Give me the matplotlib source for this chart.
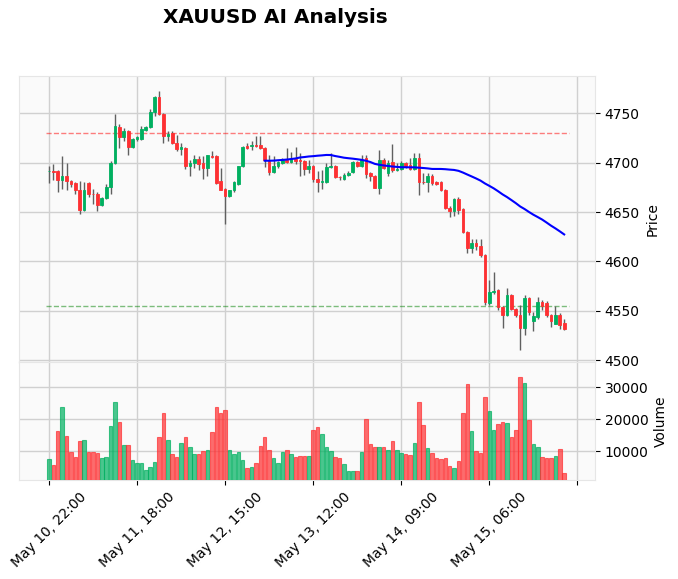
import matplotlib
matplotlib.use("Agg")
import matplotlib.pyplot as plt
import numpy as np
import pandas as pd

# ---------------- data ----------------
opens = [4691.5, 4692, 4692, 4683, 4687, 4682, 4679, 4672, 4652, 4679,
         4668.5, 4668, 4657, 4664, 4675, 4700, 4736, 4726, 4732, 4716,
         4724, 4724, 4733, 4736, 4751, 4767, 4749, 4727, 4730, 4720,
         4714, 4715, 4697, 4700, 4704, 4700, 4695, 4707, 4707, 4681,
         4673, 4666, 4672, 4678, 4697, 4717, 4717, 4717.5, 4718, 4715,
         4702, 4691, 4697, 4700, 4703, 4701, 4704, 4702.5, 4702, 4694,
         4697, 4684, 4680, 4680, 4696, 4697, 4686, 4684, 4688, 4691,
         4701, 4697, 4705, 4690, 4687, 4674, 4703, 4690, 4701, 4693,
         4694, 4700, 4698, 4694, 4705, 4680.5, 4680, 4687, 4680, 4680,
         4672, 4654, 4651, 4663, 4653, 4630, 4614, 4619, 4616, 4606,
         4558, 4569, 4571, 4554, 4546, 4566, 4552, 4546, 4532, 4563,
         4540, 4544, 4559, 4558, 4546, 4537, 4546, 4538]
highs = [4697, 4699, 4693, 4707, 4700, 4683, 4680, 4681, 4680, 4680,
         4673, 4670, 4665, 4678, 4702, 4749, 4739, 4735, 4733, 4725,
         4727, 4737, 4737, 4755, 4768, 4773, 4750, 4732, 4732, 4728,
         4720, 4716, 4703, 4708, 4707, 4707, 4708, 4712, 4708, 4695,
         4674, 4672, 4682, 4697, 4717, 4720, 4722, 4727, 4727, 4716,
         4708, 4707, 4702, 4705, 4715, 4711, 4716, 4710, 4703, 4703,
         4698, 4692, 4693, 4700, 4710, 4698, 4687, 4690, 4692, 4702,
         4702, 4708, 4708, 4691, 4688, 4713, 4705, 4703, 4719, 4700,
         4702, 4701, 4705, 4710, 4710, 4690, 4690, 4689, 4681, 4681,
         4673, 4656, 4664, 4665, 4654, 4631, 4623, 4623, 4623, 4607,
         4581, 4589, 4572, 4555, 4573, 4567, 4553, 4556, 4566, 4564,
         4549, 4564, 4561, 4560, 4547, 4555, 4548, 4542]
lows = [4679, 4683, 4670, 4673, 4672, 4675, 4668, 4648, 4651, 4665,
        4658, 4651, 4656, 4663, 4668, 4699, 4715, 4722, 4708, 4715,
        4722, 4723, 4732, 4735, 4747, 4748, 4720, 4722, 4719, 4712,
        4708, 4694, 4687, 4695, 4693, 4684, 4687, 4705, 4678, 4672,
        4638, 4665, 4670, 4677, 4696, 4714, 4713, 4716, 4714, 4696,
        4688, 4690, 4695, 4699, 4700, 4700, 4699, 4687, 4688, 4690,
        4680, 4670, 4673, 4679, 4695, 4685, 4683, 4683, 4687, 4690,
        4696, 4696, 4685, 4681, 4674, 4668, 4694, 4687, 4691, 4692,
        4693, 4695, 4693, 4693, 4667, 4678, 4670, 4677, 4677, 4671,
        4653, 4645, 4646, 4648, 4629, 4608, 4608, 4612, 4604, 4556,
        4556, 4567, 4551, 4532, 4545, 4551, 4544, 4510, 4525, 4546,
        4529, 4542, 4551, 4544, 4533, 4537, 4531, 4530]
closes = [4692, 4691, 4683, 4687, 4682, 4678, 4672, 4652, 4672, 4668,
          4668, 4657, 4664, 4675, 4700, 4737, 4726, 4732, 4716, 4724,
          4726, 4734, 4736, 4751, 4767, 4749, 4727, 4729, 4720, 4714,
          4716, 4697, 4700, 4704, 4699, 4695, 4708, 4706, 4679, 4672,
          4666, 4672, 4680, 4697, 4716, 4715, 4717.5, 4717, 4715, 4703,
          4691, 4697, 4701, 4703, 4701, 4704, 4702, 4702, 4694, 4697,
          4684, 4680, 4681, 4696, 4696.5, 4686, 4685.5, 4688, 4690, 4701,
          4697, 4703, 4689, 4687, 4674, 4703, 4695, 4700, 4693, 4694,
          4700, 4697, 4694, 4705, 4680, 4680, 4687, 4679, 4678, 4672,
          4654, 4651, 4663, 4652, 4630, 4614, 4619, 4616, 4606, 4559,
          4569, 4570, 4554, 4546, 4566, 4552, 4546, 4532, 4563, 4549,
          4545, 4559, 4555, 4546, 4540, 4546, 4536, 4531]
volumes = [7530, 5670, 16180, 23900, 14630, 9690, 8150, 13090, 13400, 9690,
           9690, 9380, 7840, 8150, 17730, 25450, 18960, 11850, 11850, 7220,
           6290, 6290, 4130, 5060, 6600, 14330, 21740, 13400, 9070, 8150,
           12470, 14330, 11240, 9070, 9070, 10000, 10310, 15870, 23900, 21740,
           22980, 10310, 9070, 9690, 7220, 4750, 5060, 6290, 11550, 14330,
           10310, 7840, 6290, 9690, 10310, 9070, 8150, 8450, 8450, 8450,
           16490, 17620, 15250, 11240, 10000, 8150, 7840, 5980, 3820, 3820,
           3820, 9690, 19890, 12160, 11240, 11240, 11240, 10310, 13090, 10310,
           9380, 9070, 8760, 12470, 25450, 18030, 10930, 9380, 7840, 7530,
           7840, 5360, 4750, 6910, 21740, 31010, 16180, 10000, 9380, 27000,
           22670, 16490, 18340, 18960, 18650, 14330, 16490, 33180, 31320, 19580,
           12160, 11240, 8150, 7840, 7730, 8450, 10620, 3200]

tick_positions = [0, 20, 40, 60, 80, 100, 120]
tick_labels = ["May 10, 22:00", "May 11, 18:00", "May 12, 15:00",
               "May 13, 12:00", "May 14, 09:00", "May 15, 06:00", ""]
resistance_level = 4730
support_level = 4555
mav_period = 50
title = "XAUUSD AI Analysis"

# ---------------- style ----------------
up_color = "#00b060"
down_color = "#fe3032"
wick_color = "#606060"
face = "#fafafa"
grid_color = "#d0d0d0"

df = pd.DataFrame({"Open": opens, "High": highs, "Low": lows,
                   "Close": closes, "Volume": volumes})
x = np.arange(len(df))
mav = df["Close"].rolling(mav_period).mean()

fig = plt.figure(figsize=(6.78, 5.79), dpi=100)
ax = fig.add_axes([0.028, 0.3748, 0.8496, 0.4940])
axv = fig.add_axes([0.028, 0.171, 0.8496, 0.2038], sharex=ax)

for a in (ax, axv):
    a.set_facecolor(face)
    a.grid(True, color=grid_color, linewidth=1, linestyle="-")
    a.set_axisbelow(True)
    for s in a.spines.values():
        s.set_color("#e6e6e6")
        s.set_linewidth(0.8)
    a.yaxis.tick_right()
    a.yaxis.set_label_position("right")
    a.tick_params(axis="both", labelsize=10, length=3.5, color="black")

up = df["Close"] >= df["Open"]
colors = np.where(up, up_color, down_color)

# wicks
ax.vlines(x, df["Low"], df["High"], color=wick_color, linewidth=1.0, zorder=2)
# bodies
body_bottom = np.minimum(df["Open"], df["Close"])
body_height = np.maximum(np.abs(df["Close"] - df["Open"]), 0.4)
ax.bar(x, body_height, bottom=body_bottom, width=0.6, color=colors,
       edgecolor=colors, linewidth=0.6, zorder=3)

# moving average
ax.plot(x, mav, color="blue", linewidth=1.5, zorder=4)

# horizontal levels
ax.hlines(resistance_level, -0.7, len(df), colors="red", linestyles="--",
          linewidth=1.0, alpha=0.5, zorder=1.5)
ax.hlines(support_level, -0.7, len(df), colors="green", linestyles="--",
          linewidth=1.0, alpha=0.5, zorder=1.5)

ax.set_ylim(4498, 4788)
ax.set_yticks([4500, 4550, 4600, 4650, 4700, 4750])
ax.set_ylabel("Price", fontsize=10)
plt.setp(ax.get_xticklabels(), visible=False)
ax.tick_params(axis="x", length=0)

# volume
axv.bar(x, df["Volume"], width=0.8, color=colors, edgecolor=colors,
        linewidth=0.8, alpha=0.7, zorder=3)
axv.set_ylim(1000, 37800)
axv.set_yticks([10000, 20000, 30000])
axv.set_ylabel("Volume", fontsize=10)

axv.set_xlim(-6.8, 124)
axv.set_xticks(tick_positions)
axv.set_xticklabels(tick_labels, rotation=45, ha="center")

fig.text(0.406, 0.969, title, ha="center", va="center",
         fontsize=14.4, fontweight="bold")

fig.savefig("out.png", dpi=100, facecolor="white")
